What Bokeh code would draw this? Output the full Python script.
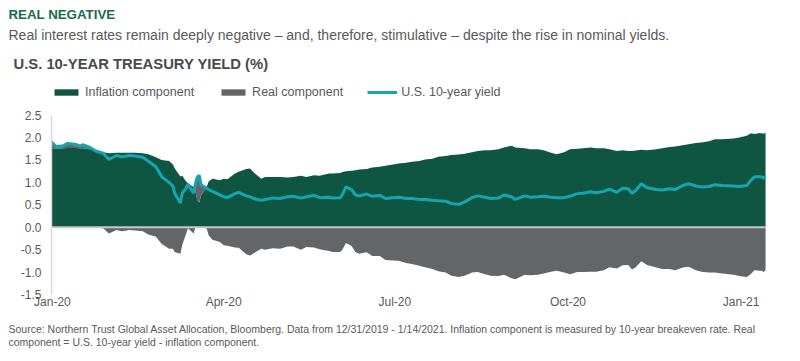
import numpy as np
import pandas as pd
from bokeh.plotting import figure
from bokeh.models import (ColumnDataSource, Range1d, FixedTicker, DatetimeTickFormatter,
                          NumeralTickFormatter, Legend, LegendItem, Title)
from bokeh.embed import file_html
from bokeh.resources import INLINE

# ---------------- data ----------------
dates = ["2019-12-31", "2020-01-03", "2020-01-07", "2020-01-09", "2020-01-13", "2020-01-16", "2020-01-17",
         "2020-01-21", "2020-01-24", "2020-01-28", "2020-01-31", "2020-02-04", "2020-02-07", "2020-02-11",
         "2020-02-14", "2020-02-18", "2020-02-21", "2020-02-25", "2020-02-28", "2020-03-03", "2020-03-05",
         "2020-03-06", "2020-03-09", "2020-03-10", "2020-03-12", "2020-03-13", "2020-03-16", "2020-03-17",
         "2020-03-18", "2020-03-19", "2020-03-20", "2020-03-23", "2020-03-24", "2020-03-26", "2020-03-30",
         "2020-04-01", "2020-04-03", "2020-04-07", "2020-04-09", "2020-04-13", "2020-04-15", "2020-04-17",
         "2020-04-21", "2020-04-23", "2020-04-27", "2020-05-01", "2020-05-05", "2020-05-08", "2020-05-12",
         "2020-05-15", "2020-05-19", "2020-05-22", "2020-05-27", "2020-05-29", "2020-06-02", "2020-06-03",
         "2020-06-05", "2020-06-08", "2020-06-10", "2020-06-12", "2020-06-16", "2020-06-19", "2020-06-23",
         "2020-06-26", "2020-06-30", "2020-07-03", "2020-07-07", "2020-07-10", "2020-07-14", "2020-07-17",
         "2020-07-21", "2020-07-24", "2020-07-28", "2020-07-31", "2020-08-04", "2020-08-07", "2020-08-11",
         "2020-08-14", "2020-08-18", "2020-08-21", "2020-08-25", "2020-08-28", "2020-09-01", "2020-09-03",
         "2020-09-08", "2020-09-11", "2020-09-15", "2020-09-18", "2020-09-22", "2020-09-25", "2020-09-29",
         "2020-10-02", "2020-10-06", "2020-10-09", "2020-10-13", "2020-10-16", "2020-10-20", "2020-10-23",
         "2020-10-27", "2020-10-30", "2020-11-02", "2020-11-04", "2020-11-06", "2020-11-09", "2020-11-12",
         "2020-11-17", "2020-11-20", "2020-11-24", "2020-11-27", "2020-12-01", "2020-12-04", "2020-12-08",
         "2020-12-11", "2020-12-15", "2020-12-18", "2020-12-22", "2020-12-28", "2020-12-31", "2021-01-04",
         "2021-01-06", "2021-01-07", "2021-01-08", "2021-01-11", "2021-01-12", "2021-01-13", "2021-01-14"]

inflation = [1.77, 1.75, 1.76, 1.77, 1.77, 1.76, 1.76, 1.74, 1.71, 1.67, 1.65, 1.66, 1.66, 1.66,
             1.66, 1.65, 1.63, 1.56, 1.50, 1.48, 1.40, 1.31, 1.13, 1.15, 1.02, 0.98, 0.90, 0.80,
             0.60, 0.55, 0.70, 0.90, 1.02, 1.08, 1.05, 1.08, 1.07, 1.20, 1.24, 1.30, 1.31, 1.22,
             1.08, 1.12, 1.12, 1.12, 1.11, 1.12, 1.15, 1.12, 1.16, 1.15, 1.20, 1.20, 1.21, 1.23,
             1.25, 1.26, 1.27, 1.29, 1.30, 1.33, 1.35, 1.37, 1.40, 1.42, 1.44, 1.46, 1.48, 1.51,
             1.53, 1.57, 1.59, 1.61, 1.62, 1.64, 1.67, 1.70, 1.72, 1.72, 1.74, 1.78, 1.82, 1.78,
             1.76, 1.74, 1.74, 1.72, 1.66, 1.63, 1.67, 1.74, 1.75, 1.76, 1.78, 1.76, 1.76, 1.74,
             1.70, 1.72, 1.70, 1.70, 1.71, 1.73, 1.72, 1.74, 1.76, 1.79, 1.80, 1.83, 1.85, 1.88,
             1.89, 1.92, 1.96, 1.96, 1.98, 2.00, 2.04, 2.09, 2.09, 2.08, 2.10, 2.09, 2.09, 2.10]

yield10 = [1.92, 1.80, 1.82, 1.87, 1.85, 1.81, 1.84, 1.78, 1.70, 1.65, 1.51, 1.60, 1.57, 1.60,
           1.59, 1.56, 1.47, 1.35, 1.13, 1.00, 0.92, 0.76, 0.54, 0.76, 0.87, 0.96, 0.76, 0.98,
           1.12, 1.16, 0.95, 0.87, 0.84, 0.80, 0.72, 0.68, 0.66, 0.75, 0.78, 0.70, 0.68, 0.64,
           0.60, 0.62, 0.65, 0.64, 0.68, 0.69, 0.65, 0.68, 0.71, 0.66, 0.67, 0.65, 0.66, 0.72,
           0.90, 0.84, 0.72, 0.70, 0.74, 0.69, 0.71, 0.64, 0.66, 0.67, 0.64, 0.64, 0.62, 0.62,
           0.60, 0.59, 0.58, 0.53, 0.51, 0.56, 0.66, 0.70, 0.67, 0.64, 0.65, 0.72, 0.68, 0.62,
           0.70, 0.67, 0.68, 0.69, 0.67, 0.66, 0.66, 0.69, 0.75, 0.76, 0.79, 0.77, 0.80, 0.85,
           0.78, 0.87, 0.86, 0.76, 0.82, 0.97, 0.88, 0.84, 0.83, 0.86, 0.84, 0.93, 0.97, 0.92,
           0.90, 0.91, 0.95, 0.93, 0.92, 0.91, 0.93, 1.04, 1.08, 1.12, 1.13, 1.12, 1.09, 1.14]

real = [0.15, 0.05, 0.06, 0.10, 0.08, 0.05, 0.08, 0.04, -0.01, -0.02, -0.14, -0.06, -0.09, -0.06,
        -0.07, -0.09, -0.16, -0.21, -0.37, -0.48, -0.48, -0.55, -0.59, -0.39, -0.15, -0.02, -0.14, 0.18,
        0.52, 0.61, 0.25, -0.03, -0.18, -0.28, -0.33, -0.40, -0.41, -0.45, -0.46, -0.60, -0.63, -0.58,
        -0.48, -0.50, -0.47, -0.48, -0.43, -0.43, -0.50, -0.44, -0.45, -0.49, -0.53, -0.55, -0.55, -0.51,
        -0.35, -0.42, -0.55, -0.59, -0.56, -0.64, -0.64, -0.73, -0.74, -0.75, -0.80, -0.82, -0.86, -0.89,
        -0.93, -0.98, -1.01, -1.08, -1.11, -1.08, -1.01, -1.00, -1.05, -1.08, -1.09, -1.06, -1.14, -1.16,
        -1.06, -1.07, -1.06, -1.03, -0.99, -0.97, -1.01, -1.05, -1.00, -1.00, -0.99, -0.99, -0.96, -0.89,
        -0.92, -0.85, -0.84, -0.94, -0.89, -0.76, -0.84, -0.90, -0.93, -0.93, -0.96, -0.90, -0.88, -0.96,
        -0.99, -1.01, -1.01, -1.03, -1.06, -1.09, -1.11, -1.05, -1.01, -0.96, -0.97, -0.97, -1.00, -0.96]

x_tick_dates = ["2020-01-01", "2020-04-01", "2020-07-01", "2020-10-01", "2021-01-01"]
y_ticks = [-1.5, -1.0, -0.5, 0.0, 0.5, 1.0, 1.5, 2.0, 2.5]

series_names = ["Inflation component", "Real component", "U.S. 10-year yield"]
heading = "REAL NEGATIVE"
subtitle = ("Real interest rates remain deeply negative \u2013 and, therefore, stimulative \u2013 "
            "despite the rise in nominal yields.")
chart_title = "U.S. 10-YEAR TREASURY YIELD (%)"
footnote = ("Source: Northern Trust Global Asset Allocation, Bloomberg. Data from 12/31/2019 - 1/14/2021. "
            "Inflation component is measured by 10-year breakeven rate. Real\n"
            "component = U.S. 10-year yield - inflation component.")

# ---------------- styling ----------------
GREEN = "#0e5641"
GREY = "#646569"
TEAL = "#17a4b2"
TXT = "#595959"
FONT = "Liberation Sans"

W, H = 800, 361
FL, FR, FT, FB = 51, 766, 78, 296   # frame edges in page pixels (top extended to hold the legend)
PX_PER_UNIT = 45.25                 # 2.5 sits at y=115
Y_TOP = 2.5 + (115 - FT) / PX_PER_UNIT
X_START = pd.Timestamp("2019-12-31 12:00")
X_END = pd.Timestamp("2021-01-14 12:00")

dt = pd.to_datetime(dates)
inf_arr = np.array(inflation)
real_arr = np.array(real)
src = ColumnDataSource(dict(
    date=dt,
    infl=inf_arr,
    yld=np.array(yield10),
    neg=np.minimum(real_arr, 0.0),
    pos_lo=inf_arr,
    pos_hi=inf_arr + np.maximum(real_arr, 0.0),
    zero=np.zeros(len(dates)),
))

p = figure(width=W, height=H, output_backend="svg", toolbar_location=None,
           x_axis_type="datetime",
           x_range=Range1d(X_START, X_END),
           y_range=Range1d(-1.5, Y_TOP),
           min_border_left=FL, min_border_right=W - FR,
           min_border_top=FT, min_border_bottom=H - FB)
p.title.visible = False
p.outline_line_color = None
p.xgrid.visible = False
p.ygrid.visible = False

r_green = p.varea(x="date", y1="zero", y2="infl", source=src, fill_color=GREEN)
r_grey = p.varea(x="date", y1="neg", y2="zero", source=src, fill_color=GREY)
p.varea(x="date", y1="pos_lo", y2="pos_hi", source=src, fill_color=GREY)
p.line(x="date", y="zero", source=src, line_color="#c8c8c8", line_width=2)
r_line = p.line(x="date", y="yld", source=src, line_color=TEAL, line_width=3)

# axes
p.xaxis.ticker = FixedTicker(ticks=[pd.Timestamp(d).value / 1e6 for d in x_tick_dates])
p.xaxis.formatter = DatetimeTickFormatter(days="%b-%y", months="%b-%y", years="%b-%y")
p.xaxis.axis_line_color = None
p.xaxis.major_tick_line_color = None
p.xaxis.minor_tick_line_color = None
p.xaxis.major_tick_out = 0
p.xaxis.major_tick_in = 0
p.xaxis.minor_tick_out = 0
p.xaxis.major_label_standoff = 0
p.xaxis.major_label_text_font = FONT
p.xaxis.major_label_text_font_size = "12px"
p.xaxis.major_label_text_color = TXT

p.yaxis.ticker = FixedTicker(ticks=y_ticks)
p.yaxis.bounds = (-1.5, 2.5)
p.yaxis.formatter = NumeralTickFormatter(format="0.0")
p.yaxis.axis_line_color = "#d9d9d9"
p.yaxis.axis_line_width = 1.5
p.yaxis.major_tick_line_color = None
p.yaxis.minor_tick_line_color = None
p.yaxis.major_tick_out = 0
p.yaxis.major_tick_in = 0
p.yaxis.minor_tick_out = 0
p.yaxis.major_label_standoff = 10
p.yaxis.major_label_text_font = FONT
p.yaxis.major_label_text_font_size = "12px"
p.yaxis.major_label_text_color = TXT

# legend inside the (extended) plot area, above the data
legend = Legend(items=[LegendItem(label=series_names[0], renderers=[r_green]),
                       LegendItem(label=series_names[1], renderers=[r_grey]),
                       LegendItem(label=series_names[2], renderers=[r_line])],
                orientation="horizontal", location=(0, FB - 101),
                glyph_width=30, glyph_height=8, label_height=14, label_standoff=4, spacing=24,
                padding=0, margin=0, border_line_color=None, background_fill_alpha=0,
                label_text_font=FONT, label_text_font_size="12.5px", label_text_color=TXT)
p.add_layout(legend)

# titles above (added nearest-first)
p.add_layout(Title(text=chart_title, align="left", offset=13 - FL, standoff=14,
                   text_font=FONT, text_font_size="14.8px", text_font_style="bold",
                   text_color="#4a4a4a"), "above")
p.add_layout(Title(text=subtitle, align="left", offset=8 - FL, standoff=7,
                   text_font=FONT, text_font_size="14px", text_font_style="normal",
                   text_color=TXT), "above")
p.add_layout(Title(text=heading, align="left", offset=8 - FL, standoff=0,
                   text_font=FONT, text_font_size="13.3px", text_font_style="bold",
                   text_color="#1b6b4e"), "above")

# footnote below the x axis
p.add_layout(Title(text=footnote, align="left", offset=8 - FL, standoff=22, vertical_align="top",
                   text_font=FONT, text_font_size="10.5px", text_font_style="normal",
                   text_color=TXT, text_line_height=1.15), "below")

open("out.html", "w").write(file_html(p, INLINE))
